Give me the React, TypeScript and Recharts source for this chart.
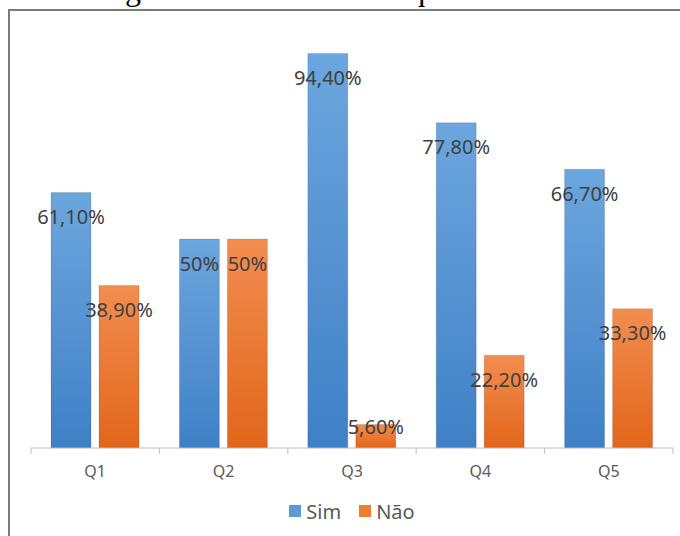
import React from 'react';
import { BarChart, Bar, XAxis, YAxis, Legend, LabelList } from 'recharts';

const categories = ['Q1', 'Q2', 'Q3', 'Q4', 'Q5'];
const simValues = [61.1, 50, 94.4, 77.8, 66.7];
const naoValues = [38.9, 50, 5.6, 22.2, 33.3];
const simLabels = ['61,10%', '50%', '94,40%', '77,80%', '66,70%'];
const naoLabels = ['38,90%', '50%', '5,60%', '22,20%', '33,30%'];
const seriesNames = ['Sim', 'Não'];
const titleText = 'Figura 3: Resultado das questões 1 a 5';

const data = categories.map((c, i) => ({
  cat: c,
  sim: simValues[i],
  nao: naoValues[i],
  simLabel: simLabels[i],
  naoLabel: naoLabels[i],
}));

const W = 680;
const H = 536;
const MARGIN = { top: 30, right: 7, left: 31, bottom: 10 };
const PLOT_W = W - MARGIN.left - MARGIN.right;
const BAND = PLOT_W / categories.length;
const FONT = '"Noto Sans", "Open Sans", sans-serif';

const BarValueLabel = (props: any) => {
  const { x, y, width, height, value } = props;
  const cy = Math.min(y + 24, y + height - 22);
  return (
    <text
      x={x + width / 2}
      y={cy}
      textAnchor="middle"
      dominantBaseline="central"
      fontFamily={FONT}
      fontSize={20}
      fill="#404040"
    >
      {value}
    </text>
  );
};

const CatTick = (props: any) => {
  const { x, y, payload, index } = props;
  const left = x - BAND / 2;
  const right = x + BAND / 2;
  return (
    <g>
      <line x1={left} x2={left} y1={y} y2={y + 6} stroke="#bfbfbf" strokeWidth={1} />
      {index === categories.length - 1 && (
        <line x1={right} x2={right} y1={y} y2={y + 6} stroke="#bfbfbf" strokeWidth={1} />
      )}
      <text
        x={x}
        y={y + 23}
        textAnchor="middle"
        dominantBaseline="central"
        fontFamily={FONT}
        fontSize={16}
        fill="#595959"
      >
        {payload.value}
      </text>
    </g>
  );
};

const LegendContent = () => {
  const items = [
    { name: seriesNames[0], color: '#5B9BD5' },
    { name: seriesNames[1], color: '#ED7D31' },
  ];
  return (
    <div
      style={{
        display: 'flex',
        justifyContent: 'center',
        alignItems: 'center',
        height: 30,
        fontFamily: FONT,
        fontSize: 20,
        color: '#595959',
      }}
    >
      {items.map((it, i) => (
        <div
          key={it.name}
          style={{ display: 'flex', alignItems: 'center', marginLeft: i > 0 ? 18 : 0 }}
        >
          <span
            style={{ display: 'inline-block', width: 12, height: 12, background: it.color, marginRight: 5 }}
          />
          <span>{it.name}</span>
        </div>
      ))}
    </div>
  );
};

export default function App() {
  return (
    <div
      style={{
        position: 'fixed',
        left: 0,
        top: 0,
        width: W,
        height: H,
        overflow: 'hidden',
        background: '#ffffff',
      }}
    >
      <svg width={W} height={20} style={{ position: 'absolute', left: 0, top: 0 }}>
        <defs>
          <linearGradient id="gradSim" x1="0" y1="0" x2="0" y2="1">
            <stop offset="0%" stopColor="#6CA6DE" />
            <stop offset="100%" stopColor="#3F80C6" />
          </linearGradient>
          <linearGradient id="gradNao" x1="0" y1="0" x2="0" y2="1">
            <stop offset="0%" stopColor="#F28D50" />
            <stop offset="100%" stopColor="#E2661A" />
          </linearGradient>
        </defs>
        <text
          x={344}
          y={0}
          textAnchor="middle"
          fontFamily='"Liberation Serif", "Times New Roman", serif'
          fontSize={32}
          fill="#000000"
        >
          {titleText}
        </text>
      </svg>
      <div
        style={{
          position: 'absolute',
          left: 8,
          top: 9,
          width: 800,
          height: 800,
          borderTop: '2px solid #7a7a7a',
          borderLeft: '2px solid #7a7a7a',
        }}
      />
      <div style={{ position: 'absolute', left: 0, top: 0 }}>
        <BarChart
          width={W}
          height={H}
          data={data}
          margin={MARGIN}
          barCategoryGap={20}
          barGap={8}
        >
          <XAxis
            dataKey="cat"
            height={48}
            axisLine={{ stroke: '#bfbfbf' }}
            tickLine={false}
            tickSize={0}
            tickMargin={0}
            tick={<CatTick />}
            interval={0}
          />
          <YAxis hide domain={[0, 100]} />
          <Legend verticalAlign="bottom" content={<LegendContent />} />
          <Bar
            dataKey="sim"
            name={seriesNames[0]}
            fill="url(#gradSim)"
            stroke="rgba(0,0,0,0.12)"
            strokeWidth={1}
            isAnimationActive={false}
          >
            <LabelList dataKey="simLabel" content={<BarValueLabel />} />
          </Bar>
          <Bar
            dataKey="nao"
            name={seriesNames[1]}
            fill="url(#gradNao)"
            stroke="rgba(0,0,0,0.12)"
            strokeWidth={1}
            isAnimationActive={false}
          >
            <LabelList dataKey="naoLabel" content={<BarValueLabel />} />
          </Bar>
        </BarChart>
      </div>
    </div>
  );
}
